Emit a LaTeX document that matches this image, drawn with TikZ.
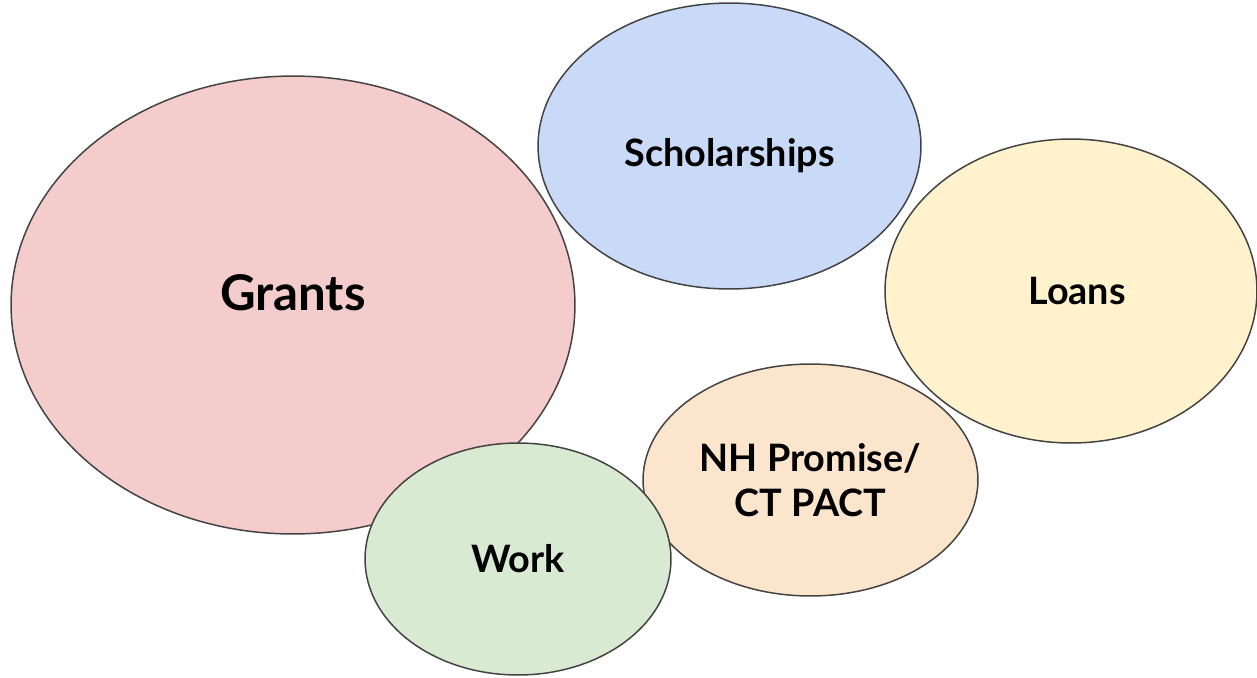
\documentclass[tikz,border=0pt]{standalone}
\usepackage{fontspec}
\setmainfont{Lato}
\usepackage{xcolor}
\usepackage{tikz}
\usetikzlibrary{shapes.geometric}
\definecolor{edge}{HTML}{434343}
\definecolor{grantfill}{HTML}{F4CCCC}
\definecolor{scholfill}{HTML}{C9DAF8}
\definecolor{loanfill}{HTML}{FFF2CC}
\definecolor{promfill}{HTML}{FCE5CD}
\definecolor{workfill}{HTML}{D9EAD3}
\tikzset{
  blob/.style={ellipse, draw=edge, line width=0.85pt, inner sep=0pt},
  lab/.style={align=center, font=\bfseries\fontsize{21.5}{26}\selectfont},
  labbig/.style={font=\bfseries\fontsize{28}{34}\selectfont},
}

\begin{document}
\begin{tikzpicture}[x=0.02cm, y=-0.02cm]
  \useasboundingbox (0,0) rectangle (1257,677);
  \node[blob, fill=grantfill, minimum width=11.28cm, minimum height=9.16cm,
        label={[labbig, yshift=0.24cm]center:Grants}] (grants) at (293,305) {};
  \node[blob, fill=scholfill, minimum width=7.66cm, minimum height=5.72cm,
        label={[lab, yshift=-0.2cm]center:Scholarships}] (schol) at (729.5,146) {};
  \node[blob, fill=loanfill, minimum width=7.44cm, minimum height=6.08cm,
        label={[lab, xshift=0.12cm]center:Loans}] (loans) at (1071,291) {};
  \node[blob, fill=promfill, minimum width=6.7cm, minimum height=4.64cm,
        label={[lab]center:NH Promise/\\CT PACT}] (promise) at (810.5,480) {};
  \node[blob, fill=workfill, minimum width=6.12cm, minimum height=4.64cm,
        label={[lab]center:Work}] (work) at (518,559) {};
\end{tikzpicture}
\end{document}
